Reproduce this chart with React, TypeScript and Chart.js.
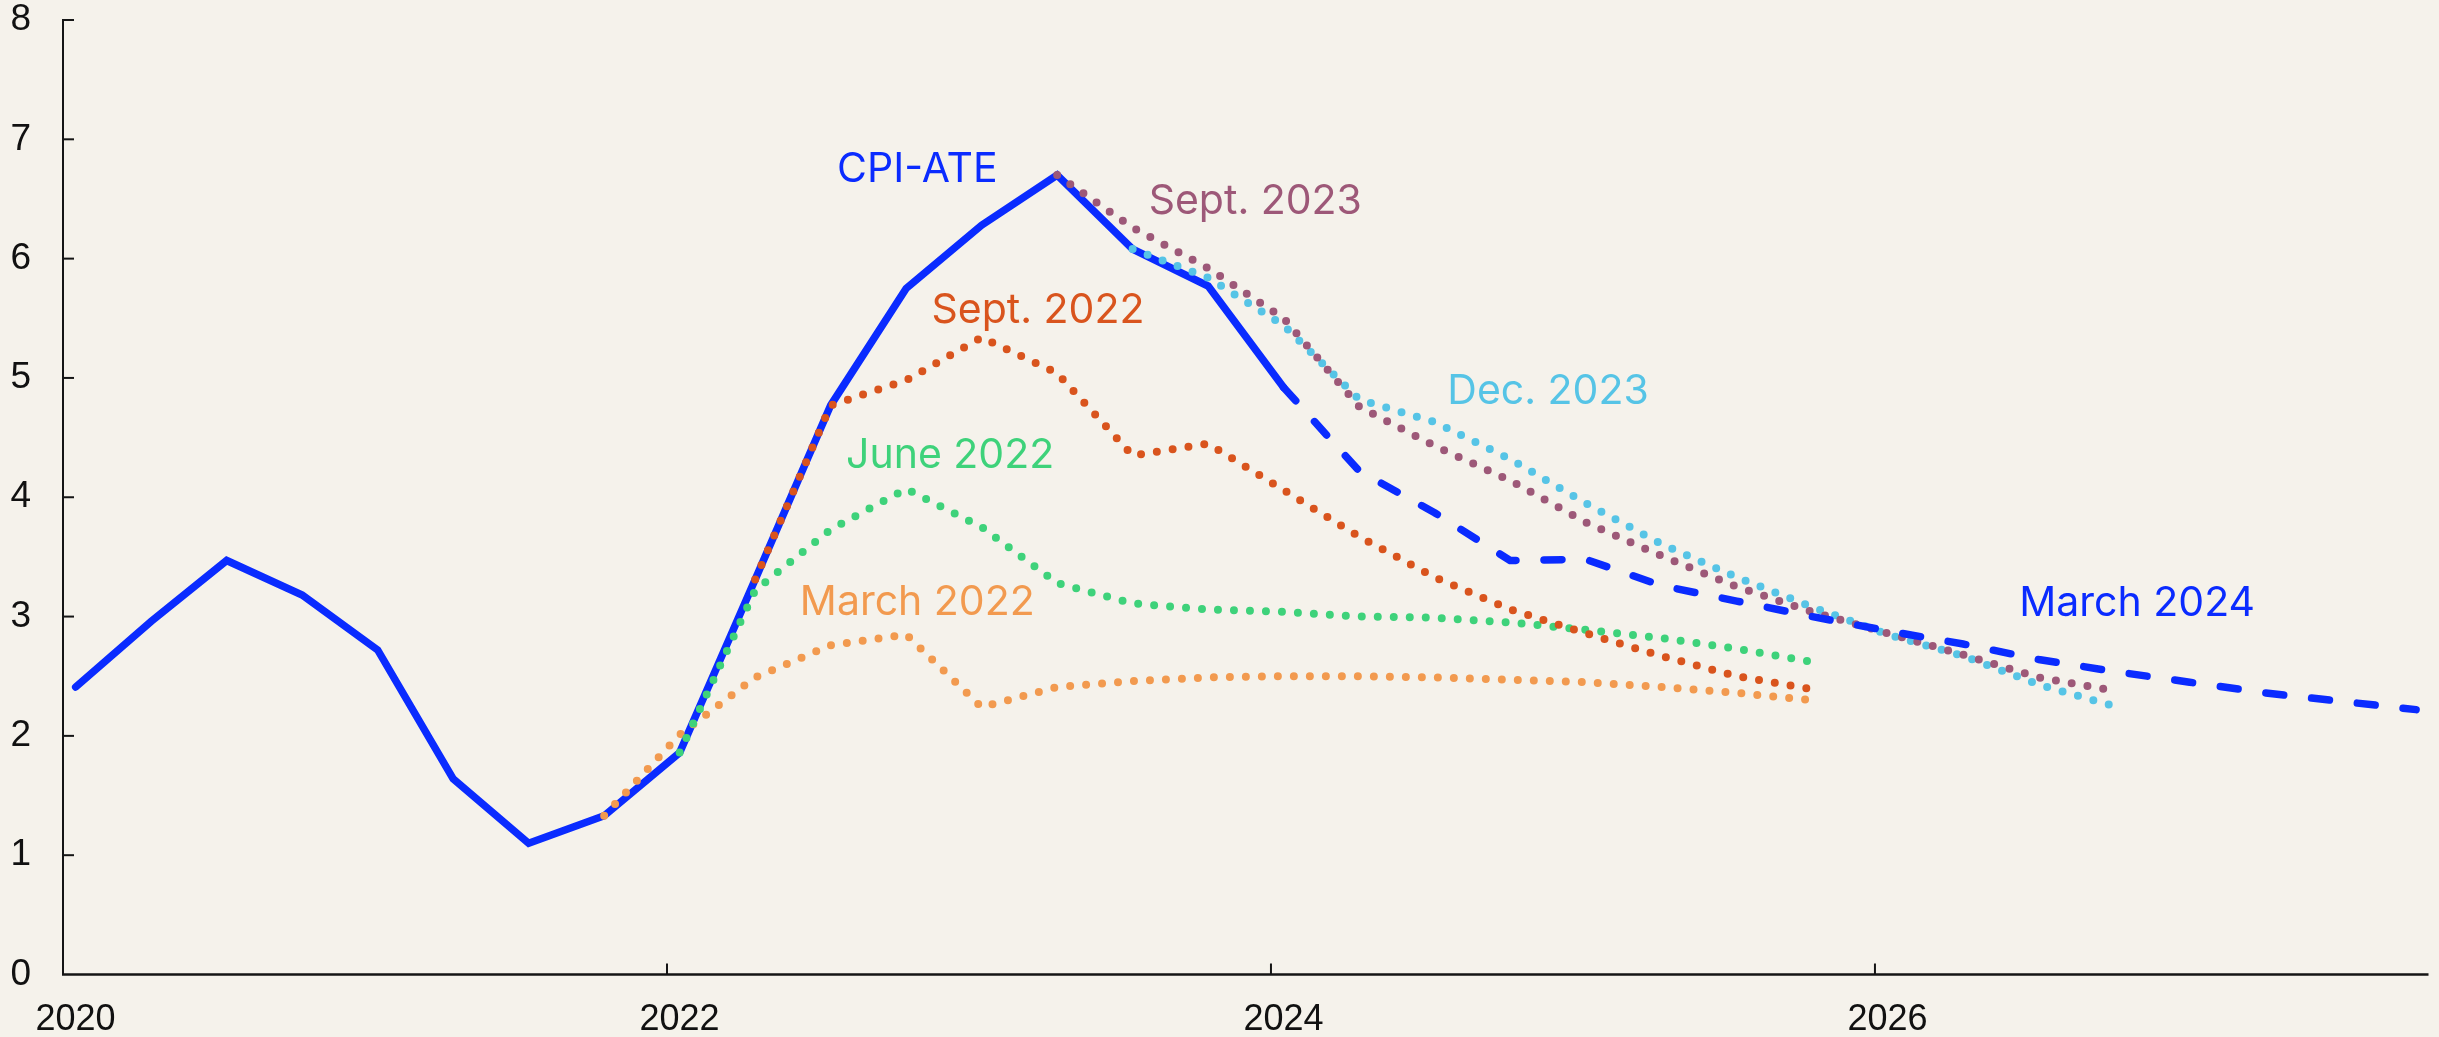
import React, { useEffect, useRef } from 'react';
import { Chart, registerables } from 'chart.js';

Chart.register(...registerables);

// ---- data ----
const quarters = [
  '2020Q1', '2020Q2', '2020Q3', '2020Q4',
  '2021Q1', '2021Q2', '2021Q3', '2021Q4',
  '2022Q1', '2022Q2', '2022Q3', '2022Q4',
  '2023Q1', '2023Q2', '2023Q3', '2023Q4',
  '2024Q1', '2024Q2', '2024Q3', '2024Q4',
  '2025Q1', '2025Q2', '2025Q3', '2025Q4',
  '2026Q1', '2026Q2', '2026Q3', '2026Q4',
  '2027Q1', '2027Q2', '2027Q3', '2027Q4',
];

const xTickYears = [2020, 2022, 2024, 2026];
const yTicks = [0, 1, 2, 3, 4, 5, 6, 7, 8];

const cpiAteStart = '2020Q1';
const cpiAte = [2.41, 2.96, 3.47, 3.18, 2.72, 1.64, 1.10, 1.33, 1.86, 3.31, 4.77, 5.75, 6.28, 6.70, 6.08, 5.77, 4.92];

const march2022Start = '2021Q4';
const march2022 = [1.33, 2.01, 2.49, 2.76, 2.85, 2.24, 2.41, 2.46, 2.49, 2.50, 2.50, 2.49, 2.47, 2.45, 2.41, 2.36, 2.30];

const june2022Start = '2022Q1';
const june2022 = [1.86, 3.22, 3.73, 4.07, 3.75, 3.28, 3.11, 3.06, 3.04, 3.00, 2.99, 2.95, 2.89, 2.82, 2.73, 2.62];

const sept2022Start = '2022Q2';
const sept2022 = [3.31, 4.77, 4.98, 5.34, 5.04, 4.35, 4.45, 4.06, 3.67, 3.33, 3.06, 2.86, 2.67, 2.50, 2.39];

const sept2023Start = '2023Q2';
const sept2023 = [6.70, 6.26, 5.92, 5.50, 4.76, 4.43, 4.14, 3.79, 3.51, 3.25, 3.04, 2.86, 2.68, 2.49, 2.38];

const dec2023Start = '2023Q3';
const dec2023 = [6.08, 5.84, 5.44, 4.82, 4.63, 4.32, 3.95, 3.61, 3.33, 3.08, 2.85, 2.67, 2.43, 2.25];

const march2024Start = '2024Q1';
const march2024 = [4.92, 4.22, 3.87, 3.47, 3.48, 3.26, 3.13, 3.00, 2.88, 2.77, 2.64, 2.54, 2.45, 2.36, 2.29, 2.22];

// ---- styles ----
const BG = '#f5f2eb';
const BLUE = '#0a2bff';
const MAUVE = '#9d5878';
const CYAN = '#56c4e6';
const RED = '#d9541d';
const GREEN = '#3ed27a';
const ORANGE = '#f29a4f';
const AXIS = '#151515';
const TICK_FONT = "'Liberation Sans', Arial, sans-serif";
const LABEL_FONT = "Inter, 'Noto Sans', sans-serif";

// annotation labels (text, anchor in data units)
const seriesLabels = [
  { text: 'CPI-ATE', x: 2022.563, y: 6.64, color: BLUE },
  { text: 'Sept. 2023', x: 2023.595, y: 6.375, color: MAUVE },
  { text: 'Sept. 2022', x: 2022.876, y: 5.46, color: RED },
  { text: 'June 2022', x: 2022.593, y: 4.242, color: GREEN },
  { text: 'March 2022', x: 2022.44, y: 3.011, color: ORANGE },
  { text: 'Dec. 2023', x: 2024.584, y: 4.785, color: CYAN },
  { text: 'March 2024', x: 2026.478, y: 3.005, color: BLUE },
];

const quarterToX = (q: string) => {
  const year = parseInt(q.slice(0, 4), 10);
  const qn = parseInt(q.slice(5), 10);
  return year + (qn - 1) * 0.25 + 0.042;
};

const toPoints = (start: string, values: number[]) => {
  const s = quarters.indexOf(start);
  return values.map((v, i) => ({ x: quarterToX(quarters[s + i]), y: v }));
};

const dotted = (label: string, color: string, start: string, values: number[]) => ({
  label,
  data: toPoints(start, values),
  borderColor: color,
  backgroundColor: color,
  borderWidth: 8,
  borderDash: [0, 16],
  borderCapStyle: 'round' as const,
  borderJoinStyle: 'round' as const,
  tension: 0,
  pointRadius: 0,
  fill: false,
});

const axesPlugin = {
  id: 'customAxes',
  beforeDatasetsDraw(chart: any) {
    const { ctx, chartArea, scales } = chart;
    const xs = scales.x;
    const ys = scales.y;
    ctx.save();
    ctx.strokeStyle = AXIS;
    // y axis line
    ctx.lineWidth = 2;
    ctx.beginPath();
    ctx.moveTo(chartArea.left, ys.getPixelForValue(8) - 1);
    ctx.lineTo(chartArea.left, chartArea.bottom);
    ctx.stroke();
    // y ticks (inward)
    yTicks.forEach((v) => {
      if (v === 0) return;
      const py = ys.getPixelForValue(v);
      ctx.beginPath();
      ctx.moveTo(chartArea.left, py);
      ctx.lineTo(chartArea.left + 11, py);
      ctx.stroke();
    });
    // x ticks (inward)
    xTickYears.forEach((v) => {
      if (v === 2020) return;
      const px = xs.getPixelForValue(v);
      ctx.beginPath();
      ctx.moveTo(px, chartArea.bottom);
      ctx.lineTo(px, chartArea.bottom - 11);
      ctx.stroke();
    });
    // x axis line
    ctx.lineWidth = 2.6;
    ctx.beginPath();
    ctx.moveTo(chartArea.left - 1, chartArea.bottom);
    ctx.lineTo(chartArea.right, chartArea.bottom);
    ctx.stroke();
    ctx.restore();
  },
  afterDatasetsDraw(chart: any) {
    const { ctx, scales } = chart;
    ctx.save();
    ctx.font = `400 41px ${LABEL_FONT}`;
    ctx.textAlign = 'left';
    ctx.textBaseline = 'alphabetic';
    seriesLabels.forEach((l) => {
      ctx.fillStyle = l.color;
      ctx.fillText(l.text, scales.x.getPixelForValue(l.x), scales.y.getPixelForValue(l.y));
    });
    ctx.restore();
  },
};

export default function App() {
  const canvasRef = useRef<HTMLCanvasElement | null>(null);

  useEffect(() => {
    const canvas = canvasRef.current;
    if (!canvas) return;
    const chart = new Chart(canvas, {
      type: 'line',
      data: {
        datasets: [
          {
            label: 'March 2024',
            data: toPoints(march2024Start, march2024),
            borderColor: BLUE,
            borderWidth: 7.5,
            borderDash: [18, 28],
            borderCapStyle: 'round',
            borderJoinStyle: 'round',
            tension: 0,
            pointRadius: 0,
            fill: false,
          },
          dotted('Sept. 2023', MAUVE, sept2023Start, sept2023),
          dotted('Dec. 2023', CYAN, dec2023Start, dec2023),
          dotted('Sept. 2022', RED, sept2022Start, sept2022),
          dotted('June 2022', GREEN, june2022Start, june2022),
          dotted('March 2022', ORANGE, march2022Start, march2022),
          {
            label: 'CPI-ATE',
            data: toPoints(cpiAteStart, cpiAte),
            borderColor: BLUE,
            borderWidth: 7.5,
            borderCapStyle: 'round',
            borderJoinStyle: 'miter',
            tension: 0,
            pointRadius: 0,
            fill: false,
          },
        ] as any,
      },
      options: {
        animation: false,
        responsive: false,
        devicePixelRatio: 1,
        layout: { padding: { top: 20, right: 10.5, left: 0, bottom: 0 } },
        plugins: {
          legend: { display: false },
          tooltip: { enabled: false },
          title: { display: false },
        },
        scales: {
          x: {
            type: 'linear',
            min: 2020,
            max: 2027.833,
            grid: { display: false, drawTicks: false },
            border: { display: false },
            afterBuildTicks: (scale: any) => {
              scale.ticks = xTickYears.map((v) => ({ value: v }));
            },
            afterFit: (scale: any) => {
              scale.height = 62.5;
              scale.paddingLeft = 0;
              scale.paddingRight = 0;
              scale.paddingTop = 0;
              scale.paddingBottom = 0;
            },
            ticks: {
              autoSkip: false,
              maxRotation: 0,
              labelOffset: 12.5,
              padding: 24,
              color: '#111',
              font: { family: TICK_FONT, size: 36 },
              callback: (v: any) => String(v),
            },
          },
          y: {
            type: 'linear',
            min: 0,
            max: 8,
            grid: { display: false, drawTicks: false },
            border: { display: false },
            afterBuildTicks: (scale: any) => {
              scale.ticks = yTicks.map((v) => ({ value: v }));
            },
            afterFit: (scale: any) => {
              scale.width = 63;
              scale.paddingLeft = 0;
              scale.paddingRight = 0;
              scale.paddingTop = 0;
              scale.paddingBottom = 0;
            },
            ticks: {
              padding: 32,
              color: '#111',
              font: { family: TICK_FONT, size: 37 },
              callback: (v: any) => String(v),
            },
          },
        },
      },
      plugins: [axesPlugin],
    });
    return () => chart.destroy();
  }, []);

  return (
    <div
      style={{
        position: 'fixed',
        left: 0,
        top: 0,
        width: 2439,
        height: 1037,
        background: BG,
      }}
    >
      <canvas ref={canvasRef} width={2439} height={1037} style={{ display: 'block', width: 2439, height: 1037 }} />
    </div>
  );
}
